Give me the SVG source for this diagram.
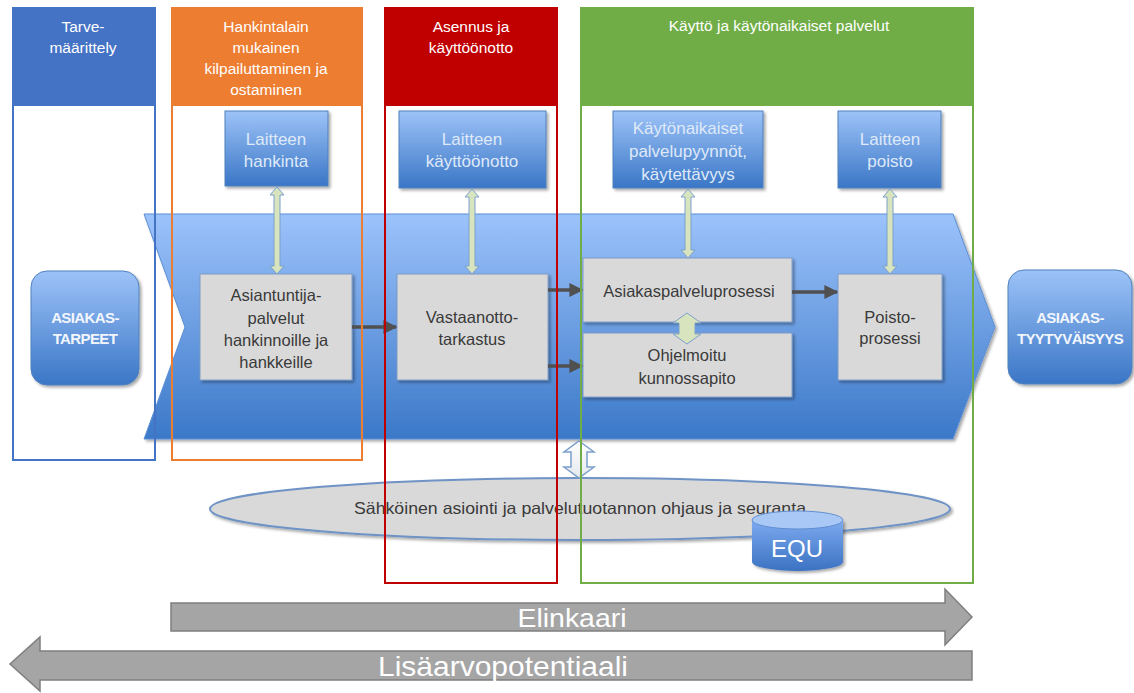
<svg xmlns="http://www.w3.org/2000/svg" width="1134" height="693" viewBox="0 0 1134 693">
  <defs>
    <linearGradient id="gChevron" x1="0" y1="0" x2="0" y2="1">
      <stop offset="0" stop-color="#9cc3fb"/>
      <stop offset="1" stop-color="#3b78c8"/>
    </linearGradient>
    <linearGradient id="gBlue" x1="0" y1="0" x2="0" y2="1">
      <stop offset="0" stop-color="#9dc3f8"/>
      <stop offset="1" stop-color="#3a76c6"/>
    </linearGradient>
    <linearGradient id="gCyl" x1="0" y1="0" x2="0" y2="1">
      <stop offset="0" stop-color="#7eaaf0"/>
      <stop offset="1" stop-color="#3a72c2"/>
    </linearGradient>
    <linearGradient id="gHollow" x1="0" y1="0" x2="0" y2="1">
      <stop offset="0" stop-color="#ffffff"/>
      <stop offset="1" stop-color="#e4e8ee"/>
    </linearGradient>
    <filter id="shadow" x="-10%" y="-10%" width="125%" height="130%">
      <feGaussianBlur in="SourceAlpha" stdDeviation="1.6"/>
      <feOffset dx="1.5" dy="2" result="b"/>
      <feComponentTransfer><feFuncA type="linear" slope="0.35"/></feComponentTransfer>
      <feMerge><feMergeNode/><feMergeNode in="SourceGraphic"/></feMerge>
    </filter>
    <marker id="dark" viewBox="0 0 10 10" refX="9" refY="5" markerWidth="4" markerHeight="4" orient="auto">
      <path d="M0,0 L10,5 L0,10 z" fill="#505050"/>
    </marker>
  </defs>
  <style>
    .hdr { font-family: "Liberation Sans", Arial, sans-serif; font-size: 15.5px; fill: #ffffff; text-anchor: middle; }
    .btxt { font-family: "Liberation Sans", Arial, sans-serif; font-size: 17px; fill: #dfe9f8; text-anchor: middle; }
    .gtxt { font-family: "Liberation Sans", Arial, sans-serif; font-size: 16.5px; fill: #3a3a3a; text-anchor: middle; }
    .ctxt { font-family: "Liberation Sans", Arial, sans-serif; font-size: 15px; font-weight: bold; letter-spacing: -0.6px; fill: #f2f6fc; text-anchor: middle; }
    .bigtxt { font-family: "Liberation Sans", Arial, sans-serif; fill: #ffffff; text-anchor: middle; }
    .bluebox { fill: url(#gBlue); stroke: #4f81bd; stroke-width: 1; filter: url(#shadow); }
    .greybox { fill: #d9d9d9; stroke: #7f9cc5; stroke-width: 1; filter: url(#shadow); }
    .vlink { fill: #d7e4bd; stroke: #7c9fcc; stroke-width: 1; }
    .flow { stroke: #505050; stroke-width: 3.5; fill: none; marker-end: url(#dark); }
    .band { fill: #a5a5a5; stroke: #7f7f7f; stroke-width: 1.5; }
  </style>

  <!-- column headers -->
  <g id="col-tarve">
    <rect x="12" y="7" width="143" height="99" fill="#4472c4"/>
    <text class="hdr" x="83" y="32">Tarve-</text>
    <text class="hdr" x="83" y="53">määrittely</text>
  </g>
  <g id="col-hankinta">
    <rect x="171" y="7" width="191" height="99" fill="#ed7d31"/>
    <text class="hdr" x="266" y="32">Hankintalain</text>
    <text class="hdr" x="266" y="53">mukainen</text>
    <text class="hdr" x="266" y="74">kilpailuttaminen ja</text>
    <text class="hdr" x="266" y="95">ostaminen</text>
  </g>
  <g id="col-asennus">
    <rect x="384" y="7" width="174" height="99" fill="#c00000"/>
    <text class="hdr" x="471" y="32">Asennus ja</text>
    <text class="hdr" x="471" y="53">käyttöönotto</text>
  </g>
  <g id="col-kaytto">
    <rect x="580" y="7" width="393" height="99" fill="#70ad47"/>
    <text class="hdr" x="779" y="31">Käyttö ja käytönaikaiset palvelut</text>
  </g>

  <!-- main process chevron -->
  <g id="chevron">
    <polygon points="144,214 953,214 995,327 953,439 144,439 185,327" fill="url(#gChevron)" stroke="#5b8fd6" stroke-width="1" filter="url(#shadow)"/>
  </g>

  <!-- customer end points -->
  <g id="asiakastarpeet">
    <rect x="31" y="271" width="108" height="114" rx="16" class="bluebox"/>
    <text class="ctxt" x="85" y="323">ASIAKAS-</text>
    <text class="ctxt" x="85" y="344">TARPEET</text>
  </g>
  <g id="asiakastyytyvaisyys">
    <rect x="1008" y="270" width="124" height="114" rx="16" class="bluebox"/>
    <text class="ctxt" x="1070" y="323">ASIAKAS-</text>
    <text class="ctxt" x="1070" y="344">TYYTYVÄISYYS</text>
  </g>

  <!-- upper blue boxes -->
  <g id="laitteen-hankinta">
    <rect x="225" y="111" width="103" height="75" class="bluebox"/>
    <text class="btxt" x="276" y="145">Laitteen</text>
    <text class="btxt" x="276" y="167">hankinta</text>
  </g>
  <g id="laitteen-kayttoonotto">
    <rect x="399" y="111" width="147" height="77" class="bluebox"/>
    <text class="btxt" x="472" y="145">Laitteen</text>
    <text class="btxt" x="472" y="167">käyttöönotto</text>
  </g>
  <g id="kaytonaikaiset">
    <rect x="613" y="111" width="150" height="77" class="bluebox"/>
    <text class="btxt" x="688" y="134">Käytönaikaiset</text>
    <text class="btxt" x="688" y="157">palvelupyynnöt,</text>
    <text class="btxt" x="688" y="180">käytettävyys</text>
  </g>
  <g id="laitteen-poisto">
    <rect x="838" y="111" width="103" height="77" class="bluebox"/>
    <text class="btxt" x="890" y="145">Laitteen</text>
    <text class="btxt" x="890" y="167">poisto</text>
  </g>

  <!-- process boxes -->
  <g id="asiantuntijapalvelut">
    <rect x="200" y="274" width="152" height="106" class="greybox"/>
    <text class="gtxt" x="276" y="301">Asiantuntija-</text>
    <text class="gtxt" x="276" y="324">palvelut</text>
    <text class="gtxt" x="276" y="346">hankinnoille ja</text>
    <text class="gtxt" x="276" y="368">hankkeille</text>
  </g>
  <g id="vastaanottotarkastus">
    <rect x="397" y="274" width="151" height="106" class="greybox"/>
    <text class="gtxt" x="472" y="323">Vastaanotto-</text>
    <text class="gtxt" x="472" y="345">tarkastus</text>
  </g>
  <g id="asiakaspalveluprosessi">
    <rect x="583" y="258" width="209" height="64" class="greybox"/>
    <text class="gtxt" x="689" y="297">Asiakaspalveluprosessi</text>
  </g>
  <g id="ohjelmoitu-kunnossapito">
    <rect x="583" y="333" width="209" height="64" class="greybox"/>
    <text class="gtxt" x="687" y="361">Ohjelmoitu</text>
    <text class="gtxt" x="687" y="384">kunnossapito</text>
  </g>
  <g id="poistoprosessi">
    <rect x="838" y="274" width="104" height="106" class="greybox"/>
    <text class="gtxt" x="890" y="323">Poisto-</text>
    <text class="gtxt" x="890" y="344">prosessi</text>
  </g>

  <!-- electronic services ellipse and database -->
  <g id="sahkoinen-asiointi">
    <ellipse cx="580" cy="509" rx="370" ry="31" fill="#d9d9d9" stroke="#6f93c6" stroke-width="2" filter="url(#shadow)"/>
    <text class="gtxt" x="580" y="514" font-size="15.5" textLength="452" lengthAdjust="spacingAndGlyphs">Sähköinen asiointi ja palvelutuotannon ohjaus ja seuranta</text>
  </g>
  <g id="equ">
    <path d="M752,520 L752,562 A45.5,9 0 0 0 843,562 L843,520 Z" fill="url(#gCyl)" filter="url(#shadow)"/>
    <ellipse cx="797.5" cy="520" rx="45.5" ry="9" fill="#a9c8f5" stroke="#5f8fd2" stroke-width="1"/>
    <text class="bigtxt" x="797" y="557" font-size="24">EQU</text>
  </g>

  <!-- connectors -->
  <g id="connectors">
    <!-- vertical links between upper boxes and process boxes -->
    <polygon class="vlink" points="277,187 284,195 280,195 280,266 284,266 277,274 270,266 274,266 274,195 270,195"/>
    <polygon class="vlink" points="472,189 479,197 475,197 475,266 479,266 472,274 465,266 469,266 469,197 465,197"/>
    <polygon class="vlink" points="688,189 695,197 691,197 691,250 695,250 688,258 681,250 685,250 685,197 681,197"/>
    <polygon class="vlink" points="890,189 897,197 893,197 893,266 897,266 890,274 883,266 887,266 887,197 883,197"/>
    <!-- link between the two service processes -->
    <polygon class="vlink" points="687,313 701,323 695,323 695,334 701,334 687,344 673,334 679,334 679,323 673,323"/>
    <!-- link between the process band and the electronic services -->
    <polygon points="579,441 594,452 587,452 587,467 594,467 579,478 564,467 571,467 571,452 564,452" fill="url(#gHollow)" stroke="#7c9fcc" stroke-width="1.5"/>
    <!-- process flow arrows -->
    <line class="flow" x1="352" y1="327" x2="396" y2="327"/>
    <line class="flow" x1="548" y1="290" x2="582" y2="290"/>
    <line class="flow" x1="548" y1="366" x2="582" y2="366"/>
    <line class="flow" x1="792" y1="292" x2="837" y2="292"/>
  </g>

  <!-- column outlines -->
  <g id="col-outlines" fill="none" stroke-width="2">
    <rect x="13" y="8" width="142" height="452" stroke="#4472c4"/>
    <rect x="172" y="8" width="190" height="452" stroke="#ed7d31"/>
    <rect x="385" y="8" width="172" height="575" stroke="#c00000"/>
    <rect x="581" y="8" width="392" height="575" stroke="#70ad47"/>
  </g>

  <!-- lifecycle arrows -->
  <g id="elinkaari">
    <polygon class="band" points="171,603 945,603 945,589 972,617 945,645 945,631 171,631"/>
    <text class="bigtxt" x="572" y="627" font-size="26" textLength="109" lengthAdjust="spacingAndGlyphs">Elinkaari</text>
  </g>
  <g id="lisaarvopotentiaali">
    <polygon class="band" points="972,651 40,651 40,637 10,664 40,691 40,680 972,680"/>
    <text class="bigtxt" x="503" y="676" font-size="28" textLength="250" lengthAdjust="spacingAndGlyphs">Lisäarvopotentiaali</text>
  </g>
</svg>
